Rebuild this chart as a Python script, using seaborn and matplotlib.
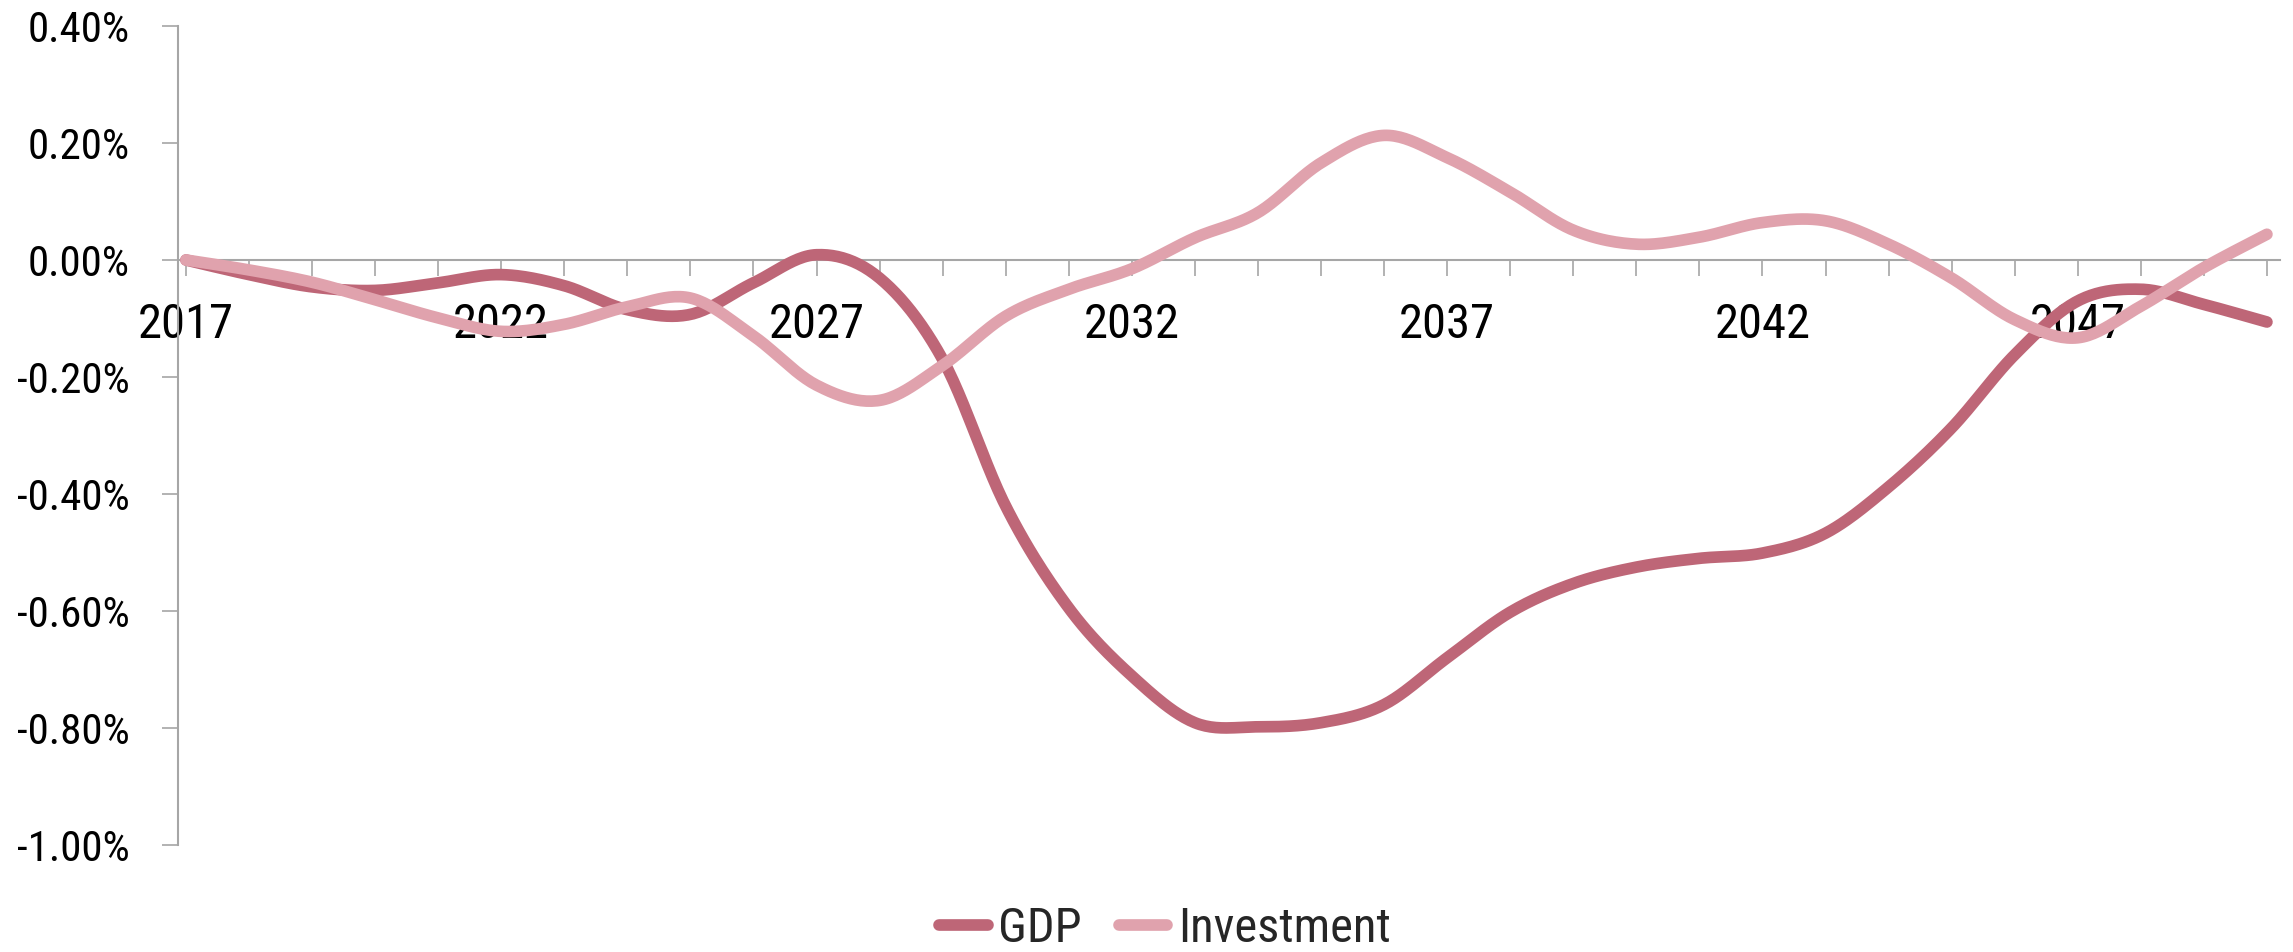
import numpy as np
import pandas as pd
import matplotlib
matplotlib.use("Agg")
import matplotlib.pyplot as plt
from matplotlib import font_manager
from matplotlib.ticker import PercentFormatter, FixedLocator
import seaborn as sns

# Annual deviation from baseline, in percent
years = list(range(2017, 2051))
gdp = [0.00, -0.025, -0.046, -0.052, -0.039, -0.025, -0.044, -0.085, -0.093, -0.039,
       0.009, -0.031, -0.170, -0.421, -0.595, -0.711, -0.791, -0.798, -0.791, -0.760,
       -0.680, -0.602, -0.553, -0.525, -0.510, -0.501, -0.467, -0.388, -0.287, -0.162,
       -0.070, -0.050, -0.076, -0.106]
investment = [0.00, -0.017, -0.038, -0.068, -0.099, -0.122, -0.110, -0.080, -0.065, -0.130,
              -0.214, -0.240, -0.180, -0.096, -0.050, -0.015, 0.038, 0.081, 0.166, 0.213,
              0.175, 0.116, 0.051, 0.027, 0.039, 0.064, 0.067, 0.027, -0.031, -0.102,
              -0.133, -0.079, -0.013, 0.044]
series_names = ["GDP", "Investment"]
series_colors = ["#BE6677", "#E0A2AD"]
y_ticks = [0.4, 0.2, 0.0, -0.2, -0.4, -0.6, -0.8, -1.0]
label_years = [2017, 2022, 2027, 2032, 2037, 2042, 2047]

sns.set_theme(style="white")
available = {f.name for f in font_manager.fontManager.ttflist}
family = next((n for n in ["Roboto Condensed", "Liberation Sans Narrow", "Roboto", "DejaVu Sans"]
               if n in available), "DejaVu Sans")
plt.rcParams["font.family"] = [family, "DejaVu Sans"]
plt.rcParams["axes.unicode_minus"] = False


def smooth_curve(x, y, steps=24):
    """Catmull-Rom (cardinal) spline through the points, as drawn by smoothed line charts."""
    x = np.asarray(x, float)
    y = np.asarray(y, float)
    px = np.concatenate([[x[0]], x, [x[-1]]])
    py = np.concatenate([[y[0]], y, [y[-1]]])
    xs, ys = [], []
    t = np.linspace(0, 1, steps, endpoint=False)
    for i in range(1, len(px) - 2):
        p0, p1, p2, p3 = py[i - 1], py[i], py[i + 1], py[i + 2]
        q0, q1, q2, q3 = px[i - 1], px[i], px[i + 1], px[i + 2]
        c1y, c2y = p1 + (p2 - p0) / 6, p2 - (p3 - p1) / 6
        c1x, c2x = q1 + (q2 - q0) / 6, q2 - (q3 - q1) / 6
        b0, b1, b2, b3 = (1 - t) ** 3, 3 * (1 - t) ** 2 * t, 3 * (1 - t) * t ** 2, t ** 3
        xs.append(b0 * q1 + b1 * c1x + b2 * c2x + b3 * q2)
        ys.append(b0 * p1 + b1 * c1y + b2 * c2y + b3 * p2)
    xs.append([x[-1]])
    ys.append([y[-1]])
    return np.concatenate(xs), np.concatenate(ys)


frames = []
for name, vals in zip(series_names, [gdp, investment]):
    sx, sy = smooth_curve(years, vals)
    frames.append(pd.DataFrame({"year": sx, "value": sy, "series": name}))
df = pd.concat(frames, ignore_index=True)

fig = plt.figure(figsize=(22.93, 9.52), dpi=100)
ax = fig.add_axes([0.0776, 0.1124, 0.9167, 0.8603])

sns.lineplot(data=df, x="year", y="value", hue="series", hue_order=series_names,
             palette=dict(zip(series_names, series_colors)), sort=False, estimator=None,
             linewidth=8.4, solid_capstyle="round", ax=ax, legend=False)

ax.set_xlim(2016.873, 2050.206)
ax.set_ylim(-1.0, 0.4)
ax.set_xlabel("")
ax.set_ylabel("")

axis_grey = "#A6A6A6"
for side in ["top", "right"]:
    ax.spines[side].set_visible(False)
ax.spines["left"].set_color(axis_grey)
ax.spines["left"].set_linewidth(1.5)
ax.spines["bottom"].set_color(axis_grey)
ax.spines["bottom"].set_linewidth(1.5)
ax.spines["bottom"].set_position(("data", 0))
ax.spines["bottom"].set_zorder(0)

ax.yaxis.set_major_locator(FixedLocator(y_ticks))
ax.yaxis.set_major_formatter(PercentFormatter(xmax=100, decimals=2))
ax.tick_params(axis="y", which="major", direction="out", length=11.5, width=1.2,
               color=axis_grey, left=True, labelsize=31, pad=23, labelcolor="black")

ax.xaxis.set_major_locator(FixedLocator(label_years))
ax.set_xticklabels([str(y) for y in label_years])
ax.xaxis.set_minor_locator(FixedLocator(years))
ax.tick_params(axis="x", which="both", direction="out", length=11.5, width=1.2,
               color=axis_grey, bottom=True)
ax.tick_params(axis="x", which="major", labelsize=35, pad=19, labelcolor="black")

handles = [plt.Line2D([], [], color=c, linewidth=8.4, solid_capstyle="round") for c in series_colors]
fig.legend(handles, series_names, loc="center", bbox_to_anchor=(0.508, 0.024), ncol=2,
           frameon=False, fontsize=35, handlelength=1.0, handletextpad=0.22,
           columnspacing=0.75)

fig.savefig("out.png", dpi=100)
